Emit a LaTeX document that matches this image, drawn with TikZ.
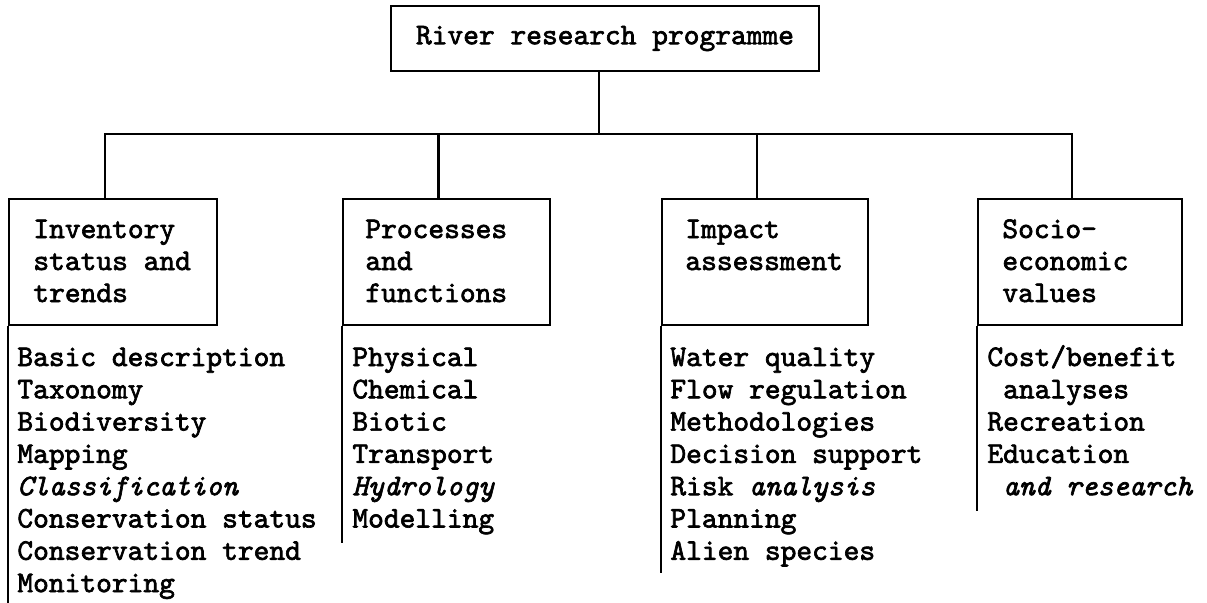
\documentclass[tikz,border=0pt]{standalone}
\usepackage{fontspec}
\setmonofont{lmmono10-regular}[Extension=.otf, ItalicFont=lmmono10-italic, FakeBold=2.2]
\begin{document}
\begin{tikzpicture}[x=0.5pt,y=-0.5pt,
  every node/.style={font=\fontsize{15pt}{16pt}\selectfont\ttfamily},
  boxframe/.style={draw, line width=1.2pt, inner sep=0pt},
  entry/.style={anchor=base west, inner sep=0pt},
  link/.style={line width=1.2pt}]
\useasboundingbox (0,0) rectangle (1207,602);

% root of the programme
\node[boxframe, minimum width=214pt, minimum height=32.5pt] (top) at (605,38.5) {River research programme};

% the four research themes
\node[boxframe, minimum width=104pt, minimum height=63pt] (b1) at (113,262) {};
\node[boxframe, minimum width=103.5pt, minimum height=63pt] (b2) at (446.5,262) {};
\node[boxframe, minimum width=103pt, minimum height=63pt] (b3) at (765,262) {};
\node[boxframe, minimum width=102pt, minimum height=63pt] (b4) at (1080,262) {};

\foreach \t [count=\i] in {Inventory, status and, trends}
  \node[entry] (h1-\i) at (33,{206+32*\i}) {\t};
\foreach \t [count=\i] in {Processes, and, functions}
  \node[entry] (h2-\i) at (365,{206+32*\i}) {\t};
\foreach \t [count=\i] in {Impact, assessment}
  \node[entry] (h3-\i) at (685,{206+32*\i}) {\t};
\foreach \t [count=\i] in {Socio-, economic, values}
  \node[entry] (h4-\i) at (1002,{206+32*\i}) {\t};

% tree connectors
\coordinate (bus) at (0,134);
\coordinate (t0) at ([xshift=-3pt]top.south);
\coordinate (d1) at ([xshift=-4pt]b1.north);
\coordinate (d2) at ([xshift=-4pt]b2.north);
\coordinate (d3) at ([xshift=-4pt]b3.north);
\coordinate (d4) at ([xshift=-4pt]b4.north);
\draw[link] (t0) -- (t0 |- bus);
\draw[link] (d1) -- (d1 |- bus) -- (d4 |- bus) -- (d4);
\draw[link] (d2) -- (d2 |- bus);
\draw[link] (d3) -- (d3 |- bus);

% topic lists with their side rules
\draw[link] (b1.south west) -- ++(0,277) coordinate (e1);
\draw[link] (b2.south west) -- ++(0,217) coordinate (e2);
\draw[link] (b3.south west) -- ++(0,247) coordinate (e3);
\draw[link] (b4.south west) -- ++(0,185) coordinate (e4);

\foreach \t [count=\i] in {Basic description, Taxonomy, Biodiversity, Mapping,
    {\itshape Classification}, Conservation status, Conservation trend, Monitoring}
  \node[entry] (l1-\i) at (17,{333.7+32.3*\i}) {\t};
\foreach \t [count=\i] in {Physical, Chemical, Biotic, Transport,
    {\itshape Hydrology}, Modelling}
  \node[entry] (l2-\i) at (352,{333.7+32.3*\i}) {\t};
\foreach \t [count=\i] in {Water quality, Flow regulation, Methodologies,
    Decision support, Risk {\itshape analysis}, Planning, Alien species}
  \node[entry] (l3-\i) at (670,{333.7+32.3*\i}) {\t};
\foreach \t [count=\i] in {Cost/benefit, \hphantom{x}analyses, Recreation, Education,
    \hphantom{x}{\itshape and research}}
  \node[entry] (l4-\i) at (987,{333.7+32.3*\i}) {\t};
\end{tikzpicture}
\end{document}
